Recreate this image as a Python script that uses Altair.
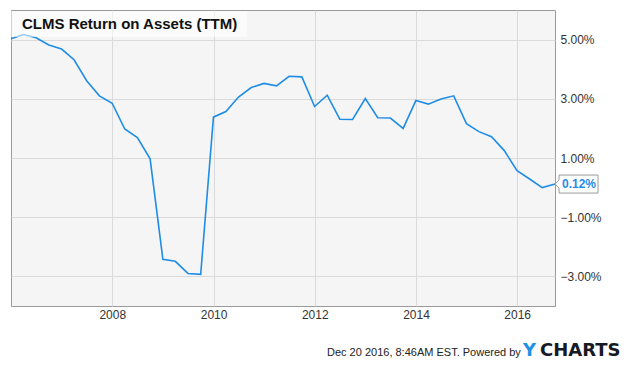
import altair as alt
import pandas as pd

# ---------------- data ----------------
quarters = [
    "2005-12-31", "2006-03-31", "2006-06-30", "2006-09-30",
    "2006-12-31", "2007-03-31", "2007-06-30", "2007-09-30",
    "2007-12-31", "2008-03-31", "2008-06-30", "2008-09-30",
    "2008-12-31", "2009-03-31", "2009-06-30", "2009-09-30",
    "2009-12-31", "2010-03-31", "2010-06-30", "2010-09-30",
    "2010-12-31", "2011-03-31", "2011-06-30", "2011-09-30",
    "2011-12-31", "2012-03-31", "2012-06-30", "2012-09-30",
    "2012-12-31", "2013-03-31", "2013-06-30", "2013-09-30",
    "2013-12-31", "2014-03-31", "2014-06-30", "2014-09-30",
    "2014-12-31", "2015-03-31", "2015-06-30", "2015-09-30",
    "2015-12-31", "2016-03-31", "2016-06-30", "2016-09-30",
]
roa = [
    5.03, 5.17, 5.06, 4.82,
    4.68, 4.32, 3.61, 3.10,
    2.85, 1.98, 1.69, 0.97,
    -2.42, -2.49, -2.90, -2.93,
    2.38, 2.57, 3.06, 3.38,
    3.52, 3.44, 3.76, 3.74,
    2.74, 3.12, 2.31, 2.30,
    3.01, 2.36, 2.35, 2.00,
    2.94, 2.82, 2.99, 3.10,
    2.16, 1.89, 1.72, 1.25,
    0.57, 0.29, 0.00, 0.12,
]
x_tick_years = [2008, 2010, 2012, 2014, 2016]
y_ticks = [-3, -1, 1, 3, 5]
title_text = "CLMS Return on Assets (TTM)"
footer_text = "Dec 20 2016, 8:46AM EST.  Powered by"
logo_y = "Y"
logo_rest = "CHARTS"

df = pd.DataFrame({"date": [d + "T00:00:00" for d in quarters], "roa": roa})
last = df.tail(1)

# ---------------- style ----------------
W, H = 544, 296
FONT = "Liberation Sans"
LOGO_FONT = "DejaVu Sans"
BLUE = "#1f8de6"
TXT = "#333333"
GRID = "#dadada"

x_enc = alt.X(
    "date:T",
    scale=alt.Scale(
        domain=[alt.DateTime(year=2005, month=12, date=31),
                alt.DateTime(year=2016, month=9, date=30)],
        nice=False,
    ),
    axis=alt.Axis(
        values=[alt.DateTime(year=y, month=1, date=1) for y in x_tick_years],
        format="%Y", title=None, grid=True, gridColor=GRID, ticks=False,
        domain=False, labelPadding=3, labelFontSize=12, labelColor=TXT,
        labelFont=FONT,
    ),
)
y_scale = alt.Scale(domain=[-4, 6], nice=False, zero=False)
y_enc = alt.Y(
    "roa:Q",
    scale=y_scale,
    axis=alt.Axis(
        orient="right", values=y_ticks, title=None, grid=True, gridColor=GRID,
        ticks=False, domain=False, labelPadding=5, labelFontSize=12,
        labelColor=TXT, labelFont=FONT,
        labelExpr="format(datum.value, '.2f') + '%'",
    ),
)

line = alt.Chart(df).mark_line(color=BLUE, strokeWidth=1.6).encode(x=x_enc, y=y_enc)

one = pd.DataFrame({"t": [title_text], "f": [footer_text], "ly": [logo_y], "lr": [logo_rest]})

title_box = alt.Chart(one).mark_rect(fill="white", opacity=0.55).encode(
    x=alt.value(0), x2=alt.value(236), y=alt.value(1), y2=alt.value(27)
)
title = alt.Chart(one).mark_text(
    align="left", baseline="alphabetic", font=FONT, fontSize=15,
    fontWeight="bold", color="#111111"
).encode(x=alt.value(11), y=alt.value(19), text="t:N")

marker = alt.Chart(last).mark_point(
    shape="M0,0L4,-4L4,-9L43,-9L43,9L4,9L4,4Z", size=4, filled=True,
    fill="white", stroke="#9a9a9a", strokeWidth=1, opacity=1
).encode(x=alt.value(W), y=alt.Y("roa:Q", scale=y_scale))

value_label = alt.Chart(last).transform_calculate(
    label="format(datum.roa, '.2f') + '%'"
).mark_text(
    align="left", baseline="middle", font=FONT, fontSize=12,
    fontWeight="bold", color=BLUE
).encode(x=alt.value(W + 7), y=alt.Y("roa:Q", scale=y_scale), text="label:N")

footer = alt.Chart(one).mark_text(
    align="left", baseline="alphabetic", font=FONT, fontSize=11, color="#222222"
).encode(x=alt.value(316), y=alt.value(346), text="f:N")

logo1 = alt.Chart(one).mark_text(
    align="left", baseline="alphabetic", font=LOGO_FONT, fontSize=18,
    fontWeight="bold", color="#1a90e6"
).encode(x=alt.value(512), y=alt.value(346), text="ly:N")
logo2 = alt.Chart(one).mark_text(
    align="left", baseline="alphabetic", font=LOGO_FONT, fontSize=18,
    fontWeight="bold", color="#151a24"
).encode(x=alt.value(529), y=alt.value(346), text="lr:N")

chart = alt.layer(
    line, title_box, title, marker, value_label, footer, logo1, logo2
).properties(
    width=W, height=H,
    autosize=alt.AutoSizeParams(type="none"),
    padding={"left": 3, "top": 2, "right": 72, "bottom": 56},
    background="white",
).configure_view(
    fill="#f5f5f5", stroke="#9a9a9a", strokeWidth=1
)

chart.save("out.html", embed_options={"renderer": "svg", "actions": False})
